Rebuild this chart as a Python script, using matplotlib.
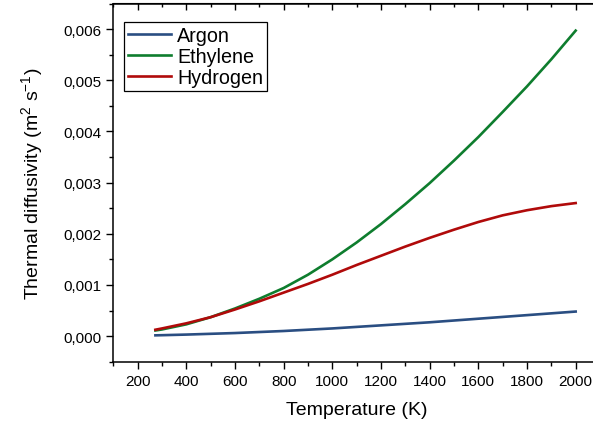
import numpy as np
import matplotlib.pyplot as plt
from matplotlib.ticker import MultipleLocator, FuncFormatter

plt.rcParams['font.family'] = ['Liberation Sans', 'DejaVu Sans']
plt.rcParams['mathtext.fontset'] = 'custom'
plt.rcParams['mathtext.rm'] = 'Liberation Sans'

# Temperatures (K) and thermal diffusivity values (m2/s)
temp = [273, 300, 400, 500, 600, 700, 800, 900, 1000, 1100, 1200,
        1300, 1400, 1500, 1600, 1700, 1800, 1900, 2000]
argon = [0.000015, 0.000018, 0.00003, 0.000045, 0.00006, 0.00008, 0.0001,
         0.000125, 0.00015, 0.00018, 0.00021, 0.00024, 0.00027, 0.000305,
         0.00034, 0.000375, 0.00041, 0.000445, 0.00048]
ethylene = [0.00011, 0.00013, 0.00023, 0.00037, 0.00054, 0.00073, 0.00094,
            0.00120, 0.00150, 0.00183, 0.00219, 0.00258, 0.00299, 0.00343,
            0.00389, 0.00438, 0.00488, 0.00541, 0.00597]
hydrogen = [0.000125, 0.00015, 0.00025, 0.00037, 0.00052, 0.00068, 0.00085,
            0.00102, 0.00120, 0.00139, 0.00157, 0.00175, 0.00192, 0.00208,
            0.00223, 0.00236, 0.00246, 0.00254, 0.0026]

fig = plt.figure(figsize=(5.93, 4.27), dpi=100)
# right edge sits just outside the canvas like the original crop
ax = fig.add_axes([113.3 / 593, 64.3 / 427, 486.7 / 593, 358.2 / 427])

ax.plot(temp, argon, color='#2a4e82', lw=1.9, label='Argon')
ax.plot(temp, ethylene, color='#0e7d2e', lw=1.9, label='Ethylene')
ax.plot(temp, hydrogen, color='#b00a0a', lw=1.9, label='Hydrogen')

ax.set_xlim(100, 2100)
ax.set_ylim(-0.0005, 0.0065)
ax.xaxis.set_major_locator(MultipleLocator(200))
ax.xaxis.set_minor_locator(MultipleLocator(100))
ax.yaxis.set_major_locator(MultipleLocator(0.001))
ax.yaxis.set_minor_locator(MultipleLocator(0.0005))
ax.yaxis.set_major_formatter(FuncFormatter(lambda v, p: f'{v:.3f}'.replace('.', ',').replace('-0,000', '0,000')))

ax.set_xticks(range(200, 2001, 200))
ax.tick_params(which='both', direction='out', top=False, right=False, labelsize=11, width=1)
ax.tick_params(which='major', length=5)
ax.tick_params(which='minor', length=3)

# inward ticks on top and right (Origin style)
ax2 = ax.secondary_xaxis('top')
ax2.set_xticks(range(200, 2001, 200))
ax2.xaxis.set_minor_locator(MultipleLocator(100))
ax2.tick_params(which='both', direction='in', labeltop=False, width=1)
ax2.tick_params(which='major', length=5)
ax2.tick_params(which='minor', length=3)
ax2.set_xticklabels([])
ay2 = ax.secondary_yaxis('right')
ay2.yaxis.set_major_locator(MultipleLocator(0.001))
ay2.yaxis.set_minor_locator(MultipleLocator(0.0005))
ay2.tick_params(which='both', direction='in', width=1)
ay2.tick_params(which='major', length=5)
ay2.tick_params(which='minor', length=3)
ay2.set_yticklabels([])

for s in ax.spines.values():
    s.set_linewidth(1.1)

ax.set_xlabel('Temperature (K)', fontsize=14, labelpad=10)
ax.set_ylabel(r'Thermal diffusivity (m$^2$ s$^{-1}$)', fontsize=14, labelpad=12.5)

leg = ax.legend(loc='upper left', bbox_to_anchor=(0.022, 0.949), fontsize=14.2,
                frameon=True, fancybox=False, edgecolor='black', framealpha=1,
                handlelength=2.2, handletextpad=0.3, borderpad=0.2,
                labelspacing=0.1, borderaxespad=0)
leg.get_frame().set_linewidth(0.9)

fig.savefig('out.png', dpi=100)
